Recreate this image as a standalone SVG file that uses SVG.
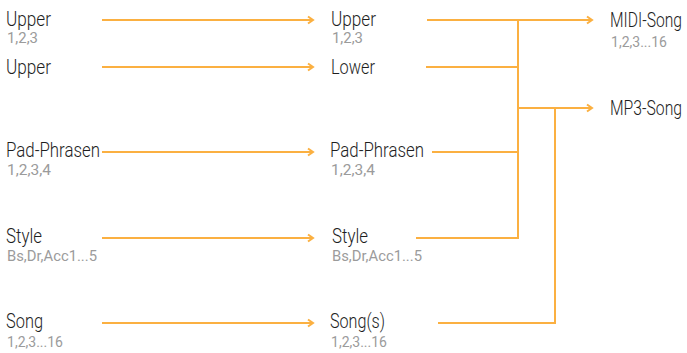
<svg xmlns="http://www.w3.org/2000/svg" width="687" height="353" viewBox="0 0 687 353">
<defs>
<marker id="ah" markerWidth="10" markerHeight="10" refX="8" refY="5" orient="auto" markerUnits="userSpaceOnUse">
<polyline points="3,1.5 8,5 3,8.5" fill="none" stroke="#FBB041" stroke-width="2"/>
</marker>
<style>
.t{font-family:Roboto,"Liberation Sans",sans-serif;font-size:20px;font-weight:300;fill:#1e1e1e;}
.s{font-family:Roboto,"Liberation Sans",sans-serif;font-size:14px;font-weight:400;fill:#9b9b9b;}
.c{fill:none;stroke:#FBB041;stroke-width:2;}
.a{marker-end:url(#ah);}
</style>
</defs>
<rect width="687" height="353" fill="#fff"/>
<g id="connectors">
<line class="c a" x1="102" y1="20" x2="313" y2="20"/>
<line class="c a" x1="102" y1="67" x2="313" y2="67"/>
<line class="c a" x1="102" y1="152" x2="313" y2="152"/>
<line class="c a" x1="102" y1="238" x2="313" y2="238"/>
<line class="c a" x1="102" y1="323" x2="313" y2="323"/>
<line class="c a" x1="427" y1="20" x2="592" y2="20"/>
<line class="c" x1="426" y1="67" x2="518" y2="67"/>
<line class="c" x1="432" y1="152" x2="518" y2="152"/>
<polyline class="c" points="416,238 518,238 518,20"/>
<line class="c a" x1="518" y1="108" x2="592" y2="108"/>
<polyline class="c" points="438,323 555,323 555,108"/>
</g>
<g id="n-left-upper1"><text class="t" x="6" y="26" textLength="45" lengthAdjust="spacingAndGlyphs">Upper</text><text class="s" x="7" y="43" textLength="31" lengthAdjust="spacingAndGlyphs">1,2,3</text></g>
<g id="n-left-upper2"><text class="t" x="6" y="74" textLength="45" lengthAdjust="spacingAndGlyphs">Upper</text></g>
<g id="n-left-pad"><text class="t" x="6" y="157" textLength="94" lengthAdjust="spacingAndGlyphs">Pad-Phrasen</text><text class="s" x="7" y="175" textLength="44" lengthAdjust="spacingAndGlyphs">1,2,3,4</text></g>
<g id="n-left-style"><text class="t" x="6" y="243" textLength="36" lengthAdjust="spacingAndGlyphs">Style</text><text class="s" x="7" y="261" textLength="90" lengthAdjust="spacingAndGlyphs">Bs,Dr,Acc1...5</text></g>
<g id="n-left-song"><text class="t" x="6" y="328" textLength="37" lengthAdjust="spacingAndGlyphs">Song</text><text class="s" x="7" y="347" textLength="56" lengthAdjust="spacingAndGlyphs">1,2,3...16</text></g>
<g id="n-mid-upper"><text class="t" x="331" y="26" textLength="45" lengthAdjust="spacingAndGlyphs">Upper</text><text class="s" x="332" y="43" textLength="31" lengthAdjust="spacingAndGlyphs">1,2,3</text></g>
<g id="n-mid-lower"><text class="t" x="331" y="74" textLength="44" lengthAdjust="spacingAndGlyphs">Lower</text></g>
<g id="n-mid-pad"><text class="t" x="330" y="157" textLength="94" lengthAdjust="spacingAndGlyphs">Pad-Phrasen</text><text class="s" x="331" y="175" textLength="44" lengthAdjust="spacingAndGlyphs">1,2,3,4</text></g>
<g id="n-mid-style"><text class="t" x="332" y="243" textLength="36" lengthAdjust="spacingAndGlyphs">Style</text><text class="s" x="332" y="261" textLength="90" lengthAdjust="spacingAndGlyphs">Bs,Dr,Acc1...5</text></g>
<g id="n-mid-songs"><text class="t" x="330" y="328" textLength="55" lengthAdjust="spacingAndGlyphs">Song(s)</text><text class="s" x="331" y="347" textLength="56" lengthAdjust="spacingAndGlyphs">1,2,3...16</text></g>
<g id="n-midi"><text class="t" transform="translate(610,27) scale(0.8,1)" x="0" y="0" textLength="90" lengthAdjust="spacingAndGlyphs">MIDI-Song</text><text class="s" x="611" y="47" textLength="56" lengthAdjust="spacingAndGlyphs">1,2,3...16</text></g>
<g id="n-mp3"><text class="t" transform="translate(610,115) scale(0.8,1)" x="0" y="0" textLength="90" lengthAdjust="spacingAndGlyphs">MP3-Song</text></g>
</svg>
